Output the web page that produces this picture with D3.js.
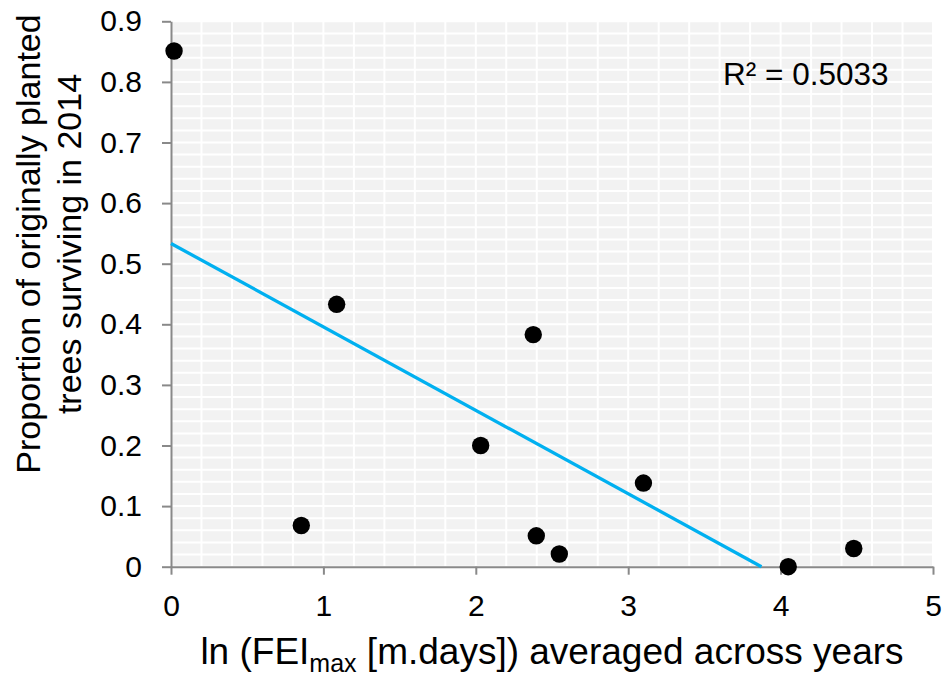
<!DOCTYPE html>
<html>
<head>
<meta charset="utf-8">
<script src="https://cdn.jsdelivr.net/npm/d3@7"></script>
<style>
  body { margin: 0; background: #fff; }
  svg text { font-family: "Liberation Sans", Arial, sans-serif; fill: #000; }
</style>
</head>
<body>
<div id="chart"></div>
<script>
// values
var lnFei = [0.02, 0.855, 1.087, 2.032, 2.377, 2.397, 2.548, 3.10, 4.05, 4.48];
var survival = [0.851, 0.068, 0.433, 0.200, 0.383, 0.051, 0.021, 0.138, 0.000, 0.030];
var xTickVals = [0, 1, 2, 3, 4, 5];
var yTickVals = [0, 0.1, 0.2, 0.3, 0.4, 0.5, 0.6, 0.7, 0.8, 0.9];
var r2Label = "R² = 0.5033";

var svgWidth = 944;
var svgHeight = 677;

var plot = { left: 171, right: 933, top: 21.3, bottom: 566.7 };

var svg = d3.select("#chart")
  .append("svg")
  .attr("width", svgWidth)
  .attr("height", svgHeight);

var xScale = d3.scaleLinear().domain([0, 5]).range([plot.left, plot.right]);
var yScale = d3.scaleLinear().domain([0, 0.9]).range([plot.bottom, plot.top]);

// plot area + white grid
svg.append("rect")
  .attr("x", plot.left)
  .attr("y", plot.top)
  .attr("width", plot.right - plot.left)
  .attr("height", plot.bottom - plot.top)
  .attr("fill", "#f2f2f2");

var grid = svg.append("g").attr("stroke", "#fff").attr("stroke-width", 2);

grid.selectAll("line.v")
  .data(xScale.ticks(25))
  .enter()
  .append("line")
  .attr("x1", d => xScale(d))
  .attr("x2", d => xScale(d))
  .attr("y1", plot.top)
  .attr("y2", plot.bottom);

grid.selectAll("line.h")
  .data(yScale.ticks(45))
  .enter()
  .append("line")
  .attr("x1", plot.left)
  .attr("x2", plot.right)
  .attr("y1", d => yScale(d))
  .attr("y2", d => yScale(d));

// axes
var bottomAxis = d3.axisBottom(xScale)
  .tickValues(xTickVals)
  .tickFormat(d3.format("d"))
  .tickSize(8)
  .tickSizeOuter(0)
  .tickPadding(20);

var leftAxis = d3.axisLeft(yScale)
  .tickValues(yTickVals)
  .tickFormat(d => d === 0 ? "0" : d3.format(".1f")(d))
  .tickSize(9)
  .tickSizeOuter(0)
  .tickPadding(20);

var xAxis = svg.append("g")
  .attr("transform", `translate(0, ${plot.bottom})`)
  .call(bottomAxis);

var yAxis = svg.append("g")
  .attr("transform", `translate(${plot.left}, 0)`)
  .call(leftAxis);

[xAxis, yAxis].forEach(function(ax) {
  ax.select(".domain").attr("stroke", "#898989").attr("stroke-width", 2);
  ax.selectAll(".tick line").attr("stroke", "#898989").attr("stroke-width", 2);
  ax.selectAll(".tick text")
    .attr("font-size", "30px")
    .attr("font-family", "Liberation Sans, Arial, sans-serif")
    .attr("fill", "#000");
});

// linear trendline (least squares), stopped at y = 0 like the original
var mx = d3.mean(lnFei);
var my = d3.mean(survival);
var sxy = d3.sum(lnFei, (v, i) => (v - mx) * (survival[i] - my));
var sxx = d3.sum(lnFei, v => (v - mx) * (v - mx));
var slope = sxy / sxx;
var intercept = my - slope * mx;
var xEnd = Math.min(5, -intercept / slope);

svg.append("line")
  .attr("x1", xScale(0))
  .attr("y1", yScale(intercept))
  .attr("x2", xScale(xEnd))
  .attr("y2", yScale(intercept + slope * xEnd))
  .attr("stroke", "#00b0f0")
  .attr("stroke-width", 3.3);

// points
svg.append("g")
  .selectAll("circle")
  .data(lnFei)
  .enter()
  .append("circle")
  .attr("cx", d => xScale(d))
  .attr("cy", (d, i) => yScale(survival[i]))
  .attr("r", 8.7)
  .attr("fill", "#000");

// R² label
svg.append("text")
  .attr("x", 723)
  .attr("y", 85)
  .attr("font-size", "31.5px")
  .text(r2Label);

// x title with subscript
var xTitle = svg.append("text")
  .attr("x", (plot.left + plot.right) / 2)
  .attr("y", 664)
  .attr("text-anchor", "middle")
  .attr("font-size", "37px");
xTitle.append("tspan").text("ln (FEI");
xTitle.append("tspan").attr("font-size", "25px").attr("dy", 8).text("max");
xTitle.append("tspan").attr("dy", -8).text(" [m.days]) averaged across years");

// y title, two lines
var yTitle = svg.append("text")
  .attr("transform", "translate(40, 244) rotate(-90)")
  .attr("text-anchor", "middle")
  .attr("font-size", "34px");
yTitle.append("tspan").attr("x", 0).attr("y", 0).text("Proportion of originally planted");
yTitle.append("tspan").attr("x", 0).attr("y", 41).text("trees surviving in 2014");
</script>
</body>
</html>
